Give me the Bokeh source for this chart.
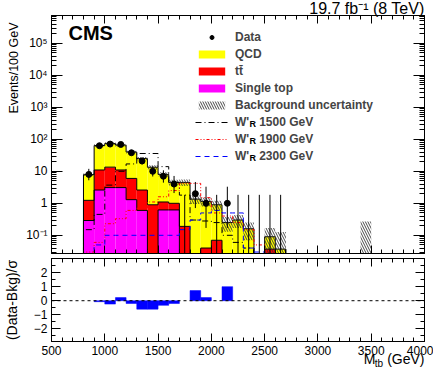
import numpy as np
from bokeh.plotting import figure
from bokeh.layouts import column
from bokeh.models import (FixedTicker, CustomJSTickFormatter, Label, Span, Legend,
                          LegendItem, Range1d, LinearAxis, LogAxis, Title)
from bokeh.embed import file_html
from bokeh.resources import INLINE

FONT = "Liberation Sans"
NBSP = "\u00a0"

# ---------------- data ----------------
bin_low = list(range(800, 3500, 100))          # 27 bins of 100 GeV: 800 ... 3400

qcd = [6.66, 53.0, 60.5, 55.0, 34.0, 22.4, 12.5, 6.9, 3.5, 4.31, 1.35, 1.11, 0.83,
       0.25, 0.30, 0.16, 0.0, 0.053, 0.037, 0, 0, 0, 0, 0, 0, 0, 0]
ttbar = [0.95, 8.4, 10.4, 7.9, 4.7, 2.0, 0.9, 0.48, 0.38, 0.19, 0.0, 0.04, 0.07,
         0, 0, 0, 0, 0.037, 0, 0, 0, 0, 0, 0, 0, 0, 0]
single_top = [0.29, 2.6, 3.1, 3.1, 1.3, 0.6, 0.0, 0.62, 0.62,
              0, 0, 0, 0, 0, 0, 0, 0, 0, 0, 0, 0, 0, 0, 0, 0, 0, 0]
bkg_unc = [0.8, 6, 7, 7, 4, 3, 2, 1.3, 0.9, 1.0, 0.4, 0.35, 0.3, 0.12, 0.13, 0.09,
           0, 0.08, 0.09, 0, 0, 0, 0, 0, 0, 0, 0.27]

w1500 = [0.15, 0.45, 3.7, 10.0, 17.0, 36.0, 36.0, 14.0, 4.5, 1.8, 0.3, 0.28, 0.25,
         0.1, 0.06, 0.04, 0, 0, 0, 0, 0, 0, 0, 0, 0, 0, 0]
w1900 = [0.03, 0.06, 0.23, 0.33, 0.6, 0.7, 1.1, 1.6, 2.5, 4.2, 4.2, 1.5, 0.5,
         0.4, 0.25, 0.15, 0.05, 0, 0, 0, 0, 0, 0, 0, 0, 0, 0]
w2300 = [0.02, 0.05, 0.1, 0.1, 0.1, 0.1, 0.1, 0.1, 0.1, 0.15, 0.3, 0.5, 0.6,
         0.5, 0.5, 0.04, 0.03, 0, 0, 0, 0, 0, 0, 0, 0, 0, 0]

data_low = list(range(800, 2700, 100))         # 19 bins with data shown
data = [8, 63, 71, 69, 38, 21, 10, 7, 4, 0, 2, 1, 0, 1, 0, 0, 0, 0, 0]
data_err_lo = [2.76, 7.9, 8.4, 8.3, 6.1, 4.6, 3.11, 2.58, 1.91, 0, 1.29, 0.83, 0,
               0.83, 0, 0, 0, 0, 0]
data_err_hi = [3.95, 8.9, 9.5, 9.3, 7.2, 5.6, 4.27, 3.77, 3.16, 1.84, 2.64, 2.30,
               1.84, 2.30, 1.84, 1.84, 1.84, 1.84, 1.84]

pull_low = list(range(800, 2200, 100))
pull = [0, -0.07, -0.24, 0.22, -0.2, -0.6, -0.6, -0.33, -0.2, 0, 0.72, 0.22, 0, 1.0]

x_major = [500, 1000, 1500, 2000, 2500, 3000, 3500, 4000]
y_major = [0.1, 1, 10, 100, 1e3, 1e4, 1e5]
pull_major = [-2, -1, 0, 1, 2]

# ---------------- derived ----------------
TINY = 1e-4
lo = np.array(bin_low, float)
hi = lo + 100
st = np.array(single_top, float)
tt_cum = st + np.array(ttbar, float)
tot = tt_cum + np.array(qcd, float)
unc = np.array(bkg_unc, float)


def pos(v):
    v = np.asarray(v, float)
    return np.where(v > 0, v, TINY)


def step_xy(vals):
    xs = [lo[0]] + list(lo) + [hi[-1]]
    ys = [TINY] + list(pos(vals)) + [TINY]
    return xs, ys


# ---------------- main panel ----------------
p1 = figure(width=433, height=256, x_range=Range1d(500, 4000),
            y_range=Range1d(0.027, 7.4e5), y_axis_type="log",
            output_backend="svg", toolbar_location=None,
            min_border_left=49, min_border_right=9, min_border_top=15,
            min_border_bottom=3, background_fill_color="white",
            border_fill_color="white", outline_line_color="black")
p1.xgrid.visible = False
p1.ygrid.visible = False

x_minor = [v for v in range(500, 4001, 100) if v % 500 != 0]
y_minor = [k * 10.0 ** e for e in range(-2, 6) for k in range(2, 10)]

log_fmt = CustomJSTickFormatter(code="""
const e = Math.round(Math.log10(tick));
if (e == 0) return "1";
if (e == 1) return "10";
const sup = {"-": "\u207b", "0": "\u2070", "1": "\u00b9", "2": "\u00b2", "3": "\u00b3",
             "4": "\u2074", "5": "\u2075", "6": "\u2076", "7": "\u2077", "8": "\u2078", "9": "\u2079"};
return "10" + String(e).split("").map(c => sup[c]).join("");
""")


def style_axis(ax, major_in, minor_in, labels=True, size="12px", standoff=4):
    ax.axis_line_color = "black"
    ax.major_tick_line_color = "black"
    ax.minor_tick_line_color = "black"
    ax.major_tick_in = major_in
    ax.major_tick_out = 0
    ax.minor_tick_in = minor_in
    ax.minor_tick_out = 0
    ax.major_label_text_font = FONT
    ax.major_label_text_color = "black"
    if labels:
        ax.major_label_text_font_size = size
        ax.major_label_standoff = standoff
    else:
        ax.formatter = CustomJSTickFormatter(code='return "";')
        ax.major_label_text_font_size = "1px"
        ax.major_label_standoff = 0


xt = FixedTicker(ticks=x_major, minor_ticks=x_minor)
yt = FixedTicker(ticks=y_major, minor_ticks=y_minor)

p1.xaxis.ticker = xt
style_axis(p1.xaxis[0], 8, 4, labels=False)
p1.yaxis.ticker = yt
p1.yaxis.formatter = log_fmt
style_axis(p1.yaxis[0], 11, 5, labels=True, standoff=4)

top1 = LinearAxis(ticker=xt)
style_axis(top1, 8, 4, labels=False)
p1.add_layout(top1, "above")
right1 = LogAxis(ticker=yt)
style_axis(right1, 11, 5, labels=False)
p1.add_layout(right1, "right")

# stacked backgrounds
r_st = p1.quad(left=lo, right=hi, bottom=TINY, top=pos(st),
               fill_color="#ff00ff", line_color=None)
r_tt = p1.quad(left=lo, right=hi, bottom=pos(st), top=pos(tt_cum),
               fill_color="#ff0000", line_color=None)
r_qcd = p1.quad(left=lo, right=hi, bottom=pos(tt_cum), top=pos(tot),
                fill_color="#ffff00", line_color=None)
for vals in (tot, tt_cum, st):
    xs, ys = step_xy(vals)
    p1.step(x=xs, y=ys, mode="after", line_color="black", line_width=1)

# background uncertainty
has_unc = unc > 0
r_unc = p1.quad(left=lo[has_unc], right=hi[has_unc],
                bottom=pos(tot - unc)[has_unc], top=(tot + unc)[has_unc],
                fill_alpha=0, line_color=None, hatch_pattern="\\",
                hatch_color="#333333", hatch_scale=5, hatch_weight=0.9)

# signals
xs, ys = step_xy(w1500)
r_s1 = p1.step(x=xs, y=ys, mode="after", line_color="black", line_width=1,
               line_dash="6 3 1 3")
xs, ys = step_xy(w1900)
r_s2 = p1.step(x=xs, y=ys, mode="after", line_color="#ff0000", line_width=1,
               line_dash="3 2 1 2 1 2")
xs, ys = step_xy(w2300)
r_s3 = p1.step(x=xs, y=ys, mode="after", line_color="#0000ff", line_width=1,
               line_dash="5 4")

# data
dlo = np.array(data_low, float)
dctr = dlo + 50
dv = np.array(data, float)
p1.segment(x0=dctr, y0=pos(dv - np.array(data_err_lo)), x1=dctr,
           y1=dv + np.array(data_err_hi), line_color="black", line_width=1)
nz = dv > 0
r_data = p1.scatter(x=dctr[nz], y=dv[nz], size=6, marker="circle",
                    fill_color="black", line_color="black")

gap = NBSP * 3
legend = Legend(items=[
    LegendItem(label="Data", renderers=[r_data]),
    LegendItem(label="QCD", renderers=[r_qcd]),
    LegendItem(label="t\u0074\u0304", renderers=[r_tt]),
    LegendItem(label="Single top", renderers=[r_st]),
    LegendItem(label="Background uncertainty", renderers=[r_unc]),
    LegendItem(label="W'" + gap + "1500 GeV", renderers=[r_s1]),
    LegendItem(label="W'" + gap + "1900 GeV", renderers=[r_s2]),
    LegendItem(label="W'" + gap + "2300 GeV", renderers=[r_s3]),
], location=(144, 90), orientation="vertical", padding=0, margin=0, spacing=3,
    glyph_width=33, glyph_height=10, label_height=14, label_standoff=7,
    label_text_font=FONT, label_text_font_style="bold", label_text_font_size="12px",
    border_line_color=None, background_fill_alpha=0)
p1.add_layout(legend)

# subscripts R in the legend entries
for cy in [120.7, 137.7, 154.3]:
    p1.add_layout(Label(x=198, y=253 - (cy + 8), x_units="screen", y_units="screen",
                        text="R", text_font=FONT, text_font_style="bold",
                        text_font_size="9px", text_color="black"))

p1.add_layout(Label(x=17, y=210, x_units="screen", y_units="screen", text="CMS",
                    text_font=FONT, text_font_style="bold", text_font_size="20px",
                    text_color="black"))

# texts outside the frame: titles in the side panels
p1.add_layout(Title(text="19.7 fb\u207b\u00b9 (8 TeV)", align="right", vertical_align="top",
                    standoff=-6, offset=0, text_font=FONT, text_font_size="16px",
                    text_font_style="normal", text_color="black"), "above")
p1.add_layout(Title(text="Events/100 GeV", align="right", vertical_align="middle",
                    standoff=4, offset=7, text_font=FONT, text_font_size="12.5px",
                    text_font_style="normal", text_color="black"), "left")

# ---------------- pull panel ----------------
p2 = figure(width=433, height=114, x_range=p1.x_range, y_range=Range1d(-2.9, 3.0),
            output_backend="svg", toolbar_location=None,
            min_border_left=49, min_border_right=9, min_border_top=2,
            min_border_bottom=29, background_fill_color="white",
            border_fill_color="white", outline_line_color="black")
p2.xgrid.visible = False
p2.ygrid.visible = False

pt = FixedTicker(ticks=pull_major, minor_ticks=[-2.5, -1.5, -0.5, 0.5, 1.5, 2.5])
p2.xaxis.ticker = xt
style_axis(p2.xaxis[0], 8, 4, labels=True, standoff=4)
p2.yaxis.ticker = pt
p2.yaxis.formatter = CustomJSTickFormatter(
    code='return (tick < 0 ? "\u2212" : "") + Math.abs(tick).toFixed(0);')
style_axis(p2.yaxis[0], 9, 4, labels=True, standoff=4)
p2.yaxis.axis_label = "(Data-Bkg)/\u03c3"
p2.yaxis.axis_label_standoff = 11
p2.yaxis.axis_label_text_font = FONT
p2.yaxis.axis_label_text_font_size = "14px"
p2.yaxis.axis_label_text_font_style = "normal"
p2.yaxis.axis_label_text_color = "black"
top2 = LinearAxis(ticker=xt)
style_axis(top2, 8, 4, labels=False)
p2.add_layout(top2, "above")
right2 = LinearAxis(ticker=pt)
style_axis(right2, 9, 4, labels=False)
p2.add_layout(right2, "right")

p2.add_layout(Span(location=0, dimension="width", line_color="black",
                   line_width=1, line_dash="3 3"))
plo = np.array(pull_low, float)
pv = np.array(pull, float)
m = pv != 0
p2.quad(left=plo[m], right=plo[m] + 100, bottom=0, top=pv[m],
        fill_color="#0000ff", line_color="#0000ff", line_width=0.5)

p2.add_layout(Title(text="M" + gap + "(GeV)", align="right", vertical_align="top",
                    standoff=-14, offset=0, text_font=FONT, text_font_size="14px",
                    text_font_style="normal", text_color="black"), "below")
p2.add_layout(Title(text="tb", align="right", vertical_align="top", standoff=-7,
                    offset=41.5, text_font=FONT, text_font_size="10px",
                    text_font_style="normal", text_color="black"), "below")

layout = column(p1, p2, spacing=0)
open("out.html", "w").write(file_html(layout, INLINE))
